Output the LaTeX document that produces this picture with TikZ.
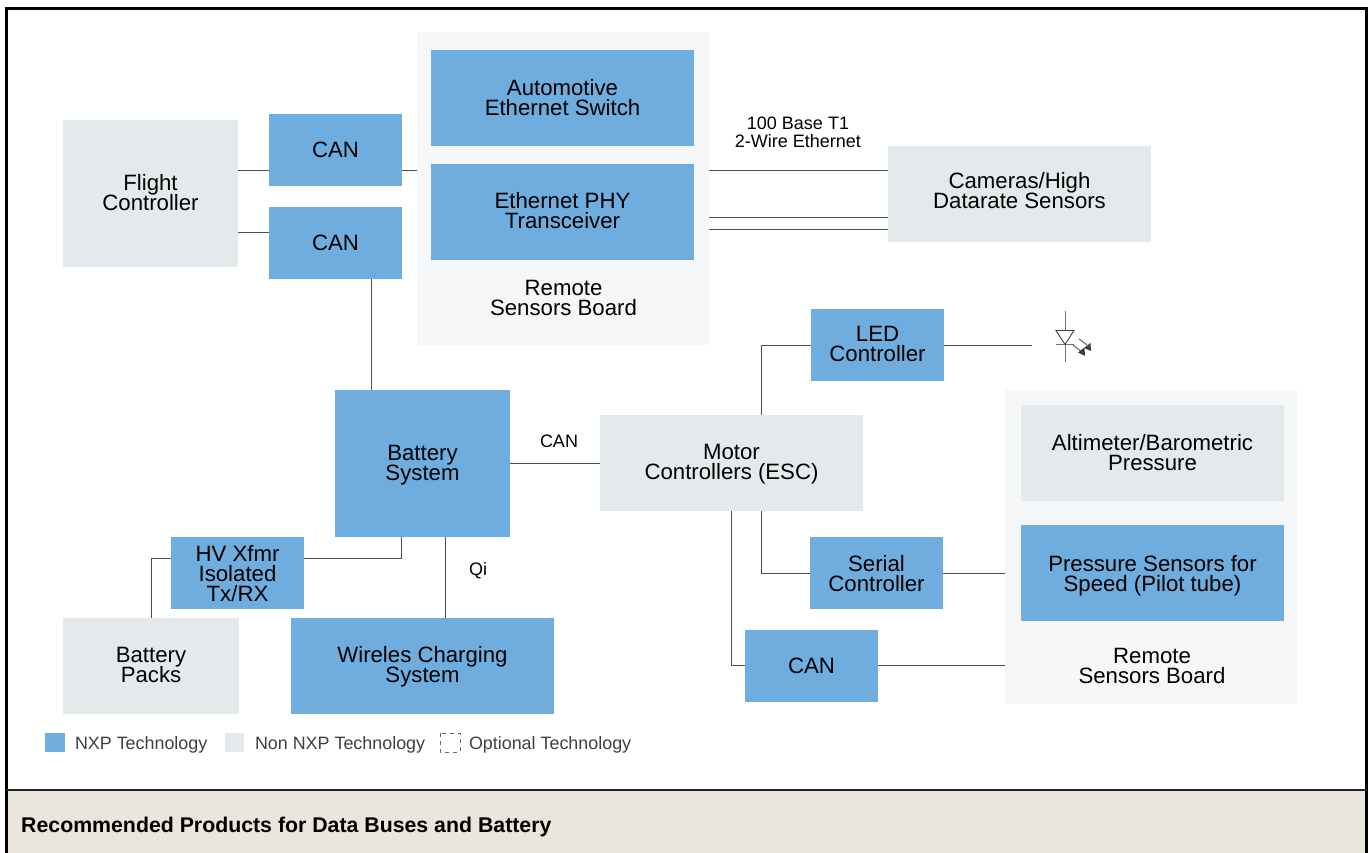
\documentclass[tikz,border=0pt]{standalone}
\usepackage{fontspec}
\setmainfont{Liberation Sans}
\definecolor{nxpblue}{HTML}{6FADDE}
\definecolor{nongrey}{HTML}{E4E9EB}
\definecolor{boardbg}{HTML}{F5F7F9}
\definecolor{footbg}{HTML}{EAE6DB}
\definecolor{linegrey}{HTML}{4A4F53}
\definecolor{ledink}{HTML}{33404A}
\tikzset{
 x=1pt,y=-1pt,
 nodebase/.style={inner sep=0pt,outer sep=0pt,align=center,text=black,font=\fontsize{22.2}{20}\selectfont},
 nxpbox/.style={nodebase,fill=nxpblue},
 nonbox/.style={nodebase,fill=nongrey},
 board/.style={inner sep=0pt,outer sep=0pt,fill=boardbg},
 plain/.style={nodebase},
 small/.style={inner sep=0pt,outer sep=0pt,align=center,font=\fontsize{18}{18}\selectfont},
 legend/.style={inner sep=0pt,outer sep=0pt,anchor=west,text=black!75,font=\fontsize{17.9}{18}\selectfont},
 wire/.style={draw=linegrey,line width=1pt},
}
\newcommand{\bx}[7]{\node[#1,minimum width=#5pt-#3pt,minimum height=#6pt-#4pt] (#2) at ({(#3+#5)/2},{(#4+#6)/2}) {#7};}
\newcommand{\up}[2]{\raisebox{#1pt}[\height][\depth]{\vbox{\let\\\cr\baselineskip=20pt\lineskiplimit=-100pt\lineskip=0pt\halign{\hfil##\hfil\cr#2\crcr}}}}
\begin{document}
\begin{tikzpicture}
\useasboundingbox (0,0) rectangle (1369,853);
\fill[white] (0,0) rectangle (1369,853);
\fill[footbg] (6,790) rectangle (1367,853);
\draw[black,line width=2.4pt] (6.5,853) -- (6.5,8.5) -- (1366.5,8.5) -- (1366.5,853);
\draw[black!85,line width=2pt] (6,790) -- (1367,790);
% boards
\bx{board}{boardA}{417}{32}{709}{345}{}
\bx{board}{boardB}{1005}{390}{1297}{704}{}
% boxes
\bx{nonbox}{flight}{63}{120}{238}{267}{\up{1}{Flight\\Controller}}
\bx{nxpbox}{canA}{269}{114}{402}{186}{\up{0}{CAN}}
\bx{nxpbox}{canB}{269}{207}{402}{279}{\up{0}{CAN}}
\bx{nxpbox}{switch}{431}{50}{694}{146}{\up{0}{Automotive\\Ethernet Switch}}
\bx{nxpbox}{phy}{431}{164}{694}{260}{\up{1}{Ethernet PHY\\Transceiver}}
\node[plain] (remoteA) at (563.5,298) {\up{0}{Remote\\Sensors Board}};
\bx{nonbox}{cams}{888}{146}{1151}{242}{\up{3}{Cameras/High\\Datarate Sensors}}
\bx{nxpbox}{led}{811}{309}{944}{381}{\up{1}{LED\\Controller}}
\bx{nxpbox}{batt}{335}{390}{510}{537}{\up{-2}{Battery\\System}}
\bx{nonbox}{motor}{600}{415}{863}{511}{\up{-1}{Motor\\Controllers (ESC)}}
\bx{nonbox}{alti}{1021}{405}{1284}{501}{\up{0}{Altimeter/Barometric\\Pressure}}
\bx{nxpbox}{press}{1021}{525}{1284}{621}{\up{-3}{Pressure Sensors for\\Speed (Pilot tube)}}
\node[plain] (remoteB) at (1152,666) {\up{0}{Remote\\Sensors Board}};
\bx{nxpbox}{hv}{171}{537}{304}{609}{\up{-1}{HV Xfmr\\Isolated\\Tx/RX}}
\bx{nxpbox}{serial}{810}{537}{943}{609}{\up{-1}{Serial\\Controller}}
\bx{nxpbox}{canC}{745}{630}{878}{702}{\up{0}{CAN}}
\bx{nonbox}{packs}{63}{618}{239}{714}{\up{1}{Battery\\Packs}}
\bx{nxpbox}{wireless}{291}{618}{554}{714}{\up{-1}{Wireles Charging\\System}}
% labels
\node[small] (lblT) at (798,132) {100 Base T1\\2-Wire Ethernet};
\node[small] (lblC) at (559,441) {CAN};
\node[small] (lblQ) at (478,571) {Qi};
% wires
\coordinate (ledEnd) at (1032,345);
\draw[wire] (flight.east |- 0,170.5) -- (canA.west |- 0,170.5);
\draw[wire] (flight.east |- 0,232.5) -- (canB.west |- 0,232.5);
\draw[wire] (canA.east |- 0,170.5) -- (boardA.west |- 0,170.5);
\draw[wire] (boardA.east |- 0,170.5) -- (cams.west |- 0,170.5);
\draw[wire] (boardA.east |- 0,217.5) -- (cams.west |- 0,217.5);
\draw[wire] (boardA.east |- 0,229.5) -- (cams.west |- 0,229.5);
\draw[wire] (canB.south -| 371,0) -- (batt.north -| 371,0);
\draw[wire] (batt.east |- 0,463) -- (motor.west |- 0,463);
\draw[wire] (batt.south -| 401,0) |- (hv.east |- 0,558);
\draw[wire] (batt.south -| 445.5,0) -- (wireless.north -| 445.5,0);
\draw[wire] (hv.west |- 0,558) -| (packs.north -| 151,0);
\draw[wire] (motor.north -| 761.5,0) |- (led.west);
\draw[wire] (led.east) -- (ledEnd);
\draw[wire] (motor.south -| 761.5,0) |- (serial.west |- 0,573.5);
\draw[wire] (serial.east |- 0,573.5) -- (boardB.west |- 0,573.5);
\draw[wire] (motor.south -| 731.5,0) |- (canC.west |- 0,665);
\draw[wire] (canC.east |- 0,665) -- (boardB.west |- 0,665);
% LED symbol
\draw[draw=black!55,line width=1pt] (1065,311) -- (1065,330);
\draw[draw=black!55,line width=1pt] (1065,345) -- (1065,362);
\draw[draw=black!55,line width=1pt] (1056,344.5) -- (1074,344.5);
\draw[draw=ledink,line width=.9pt] (1056,330.5) -- (1074,330.5) -- (1065,344.5) -- cycle;
\draw[draw=black!60,line width=1pt] (1073,345) -- (1082,352);
\fill[ledink] (1078,352.5) -- (1084.5,347.5) -- (1085,356) -- cycle;
\draw[draw=black!60,line width=1pt] (1079,339) -- (1087,345);
\fill[ledink] (1084,348) -- (1090.5,343) -- (1091,351) -- cycle;
% legend
\fill[nxpblue] (45,733) rectangle (65,752);
\node[legend] (lgA) at (75,744.5) {NXP Technology};
\fill[nongrey] (225,733) rectangle (244,752);
\node[legend] (lgB) at (255,744.5) {Non NXP Technology};
\draw[black!60,line width=.8pt,dash pattern=on 4pt off 4pt] (440,733) rectangle (460,752);
\node[legend] (lgC) at (469,744.5) {Optional Technology};
\node[inner sep=0pt,anchor=west,font=\bfseries\fontsize{21.3}{22}\selectfont] (foot) at (21,826.5) {Recommended Products for Data Buses and Battery};
\end{tikzpicture}
\end{document}
